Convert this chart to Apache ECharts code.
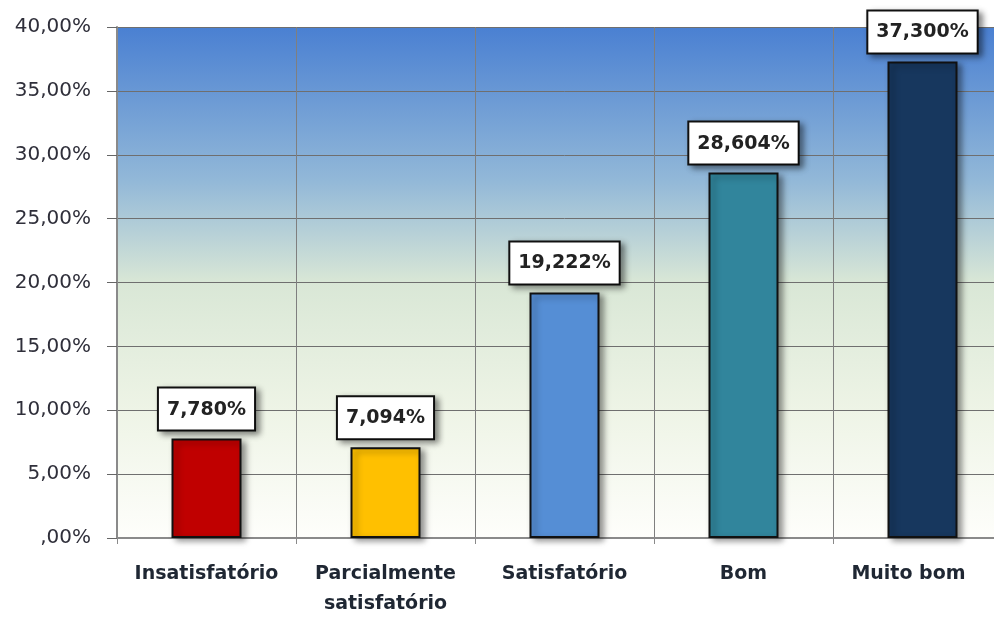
<!DOCTYPE html>
<html>
<head>
<meta charset="utf-8">
<script src="https://cdn.jsdelivr.net/npm/echarts@6/dist/echarts.min.js"></script>
<style>
  html, body { margin: 0; padding: 0; background: #fff; overflow: hidden; }
  /* o gráfico original está cortado à direita: o canvas passa da janela */
  #chart { width: 1012px; height: 619px; }
</style>
</head>
<body>
<div id="chart"></div>
<script>
  // dados
  const categorias = ['Insatisfatório', 'Parcialmente\nsatisfatório', 'Satisfatório', 'Bom', 'Muito bom']
  const valores = [7.780, 7.094, 19.222, 28.604, 37.300]
  const cores = ['#c00000', '#ffc000', '#558ed5', '#31859c', '#17375e']
  const yMax = 40
  const yPasso = 5

  const fmtEixo = function (v) {
    if (v === 0) return ',00%'
    return v.toFixed(2).replace('.', ',') + '%'
  }

  // o último rótulo fica puxado para dentro da janela, como no original
  let catData = categorias.map(function (c, i) {
    if (i === categorias.length - 1) {
      return { value: c, textStyle: { padding: [0, 28, 0, 0] } }
    }
    return c
  })

  let myChart = echarts.init(document.getElementById('chart'))
  myChart.setOption({
    animation: false,
    grid: {
      left: 117,
      top: 27,
      right: 0,
      bottom: 77,
      show: true,
      borderWidth: 0,
      backgroundColor: {
        type: 'linear', x: 0, y: 0, x2: 0, y2: 1,
        colorStops: [
          { offset: 0, color: '#4a80d2' },
          { offset: 0.3, color: '#92b8d8' },
          { offset: 0.5, color: '#d9e7d6' },
          { offset: 0.75, color: '#eef4e6' },
          { offset: 1, color: '#fefefb' }
        ]
      }
    },
    xAxis: {
      type: 'category',
      data: catData,
      axisLine: { lineStyle: { color: '#8a8a8a', width: 2 } },
      axisTick: { show: true, length: 6, lineStyle: { color: '#8a8a8a' } },
      splitLine: { show: true, lineStyle: { color: '#7f7f7f', width: 1 } },
      axisLabel: {
        margin: 21,
        fontFamily: 'DejaVu Sans',
        fontWeight: 'bold',
        fontSize: 19,
        lineHeight: 30,
        color: '#1f2733',
        interval: 0
      }
    },
    yAxis: {
      type: 'value',
      min: 0,
      max: yMax,
      interval: yPasso,
      axisLine: { show: true, lineStyle: { color: '#8a8a8a', width: 2 } },
      axisTick: { show: true, length: 10, lineStyle: { color: '#666' } },
      splitLine: { lineStyle: { color: '#6f6f6f', width: 1 } },
      axisLabel: {
        formatter: fmtEixo,
        margin: 26,
        fontFamily: 'DejaVu Sans',
        fontSize: 20,
        color: '#2f2f3a'
      }
    },
    series: [
      {
        type: 'bar',
        barWidth: 70,
        data: valores.map(function (v, i) {
          return { value: v, itemStyle: { color: cores[i] } }
        }),
        itemStyle: {
          borderColor: '#111',
          borderWidth: 2,
          shadowColor: 'rgba(0,0,0,0.4)',
          shadowBlur: 6,
          shadowOffsetX: 4,
          shadowOffsetY: 3
        },
        label: {
          show: true,
          position: 'top',
          distance: 9,
          formatter: function (p) {
            return p.value.toFixed(3).replace('.', ',') + '%'
          },
          fontFamily: 'DejaVu Sans',
          fontWeight: 'bold',
          fontSize: 19,
          lineHeight: 24,
          color: '#222',
          backgroundColor: '#fff',
          borderColor: '#111',
          borderWidth: 2,
          padding: [9, 8, 8, 8],
          shadowColor: 'rgba(0,0,0,0.4)',
          shadowBlur: 6,
          shadowOffsetX: 4,
          shadowOffsetY: 3
        }
      }
    ]
  })
</script>
</body>
</html>
